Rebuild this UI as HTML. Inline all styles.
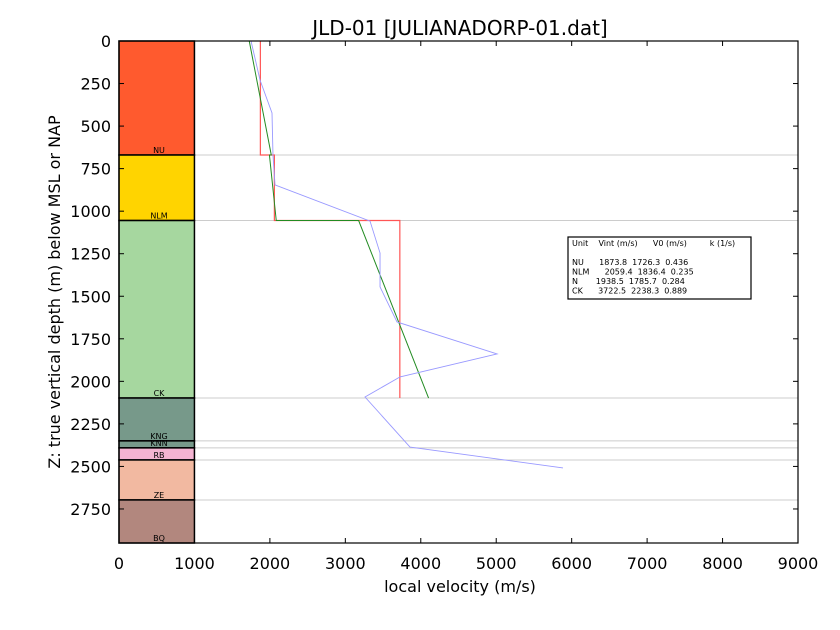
<!DOCTYPE html>
<html><head><meta charset="utf-8"><style>
body{margin:0;background:#fff;}
svg{display:block;font-family:"DejaVu Sans","Liberation Sans",sans-serif;}
</style></head><body>
<svg id="chart" width="840" height="630"></svg>
<script>
const layerNames=["NU","NLM","CK","KNG","KNN","RB","ZE","BQ"];
const layerTops=[0,670,1055,2098,2350,2391,2462,2697];
const layerBases=[670,1055,2098,2350,2391,2462,2697,2950];
const layerColors=["#ff5a2e","#ffd400","#a6d79f","#77998a","#77998a","#f4b4d2","#f2b9a1","#b2877e"];
const vintValues=[1873.8,2059.4,3722.5];
const v0Values=[1726.3,1836.4,2238.3];
const kValues=[0.436,0.235,0.889];
const fitTops=[0,670,1055];
const fitBases=[670,1055,2098];
const logDepth=[0,229,423,670,846,1058,1246,1445,1651,1839,1974,2092,2386,2509];
const logVel=[1750,1869,2028,2041,2068,3327,3460,3460,3685,5011,3725,3261,3857,5885];
const xTicks=[0,1000,2000,3000,4000,5000,6000,7000,8000,9000];
const yTicks=[0,250,500,750,1000,1250,1500,1750,2000,2250,2500,2750];
const legendRows=["Unit    Vint (m/s)      V0 (m/s)         k (1/s)","","NU      1873.8  1726.3  0.436","NLM      2059.4  1836.4  0.235","N       1938.5  1785.7  0.284","CK      3722.5  2238.3  0.889"];

const L=119,R=798,T=41,B=543,XMAX=9000,YMAX=2950;
const X=v=>L+v/XMAX*(R-L);
const Y=d=>T+d/YMAX*(B-T);
const svg=document.getElementById('chart');
const NS="http://www.w3.org/2000/svg";
function mk(tag,attrs,parent){const e=document.createElementNS(NS,tag);for(const k in attrs)e.setAttribute(k,attrs[k]);(parent||svg).appendChild(e);return e;}

layerBases.forEach((d,i)=>{
 const l=mk('line',{x1:L,x2:R,y1:Y(d),y2:Y(d),stroke:'#cccccc','stroke-width':1});
 
 
});
layerNames.forEach((n,i)=>{
 const r=mk('rect',{x:L,y:Y(layerTops[i]),width:X(1000)-L,height:Y(layerBases[i])-Y(layerTops[i]),fill:layerColors[i],stroke:'#000','stroke-width':1.5});
 
 
 const t=mk('text',{x:X(530),y:Y(layerBases[i])-2,'font-size':8,'text-anchor':'middle',fill:'#000'});
 t.textContent=n;
 
 
});
let rp='';
vintValues.forEach((v,i)=>{rp+=(i?'L':'M')+X(v)+','+Y(fitTops[i])+'L'+X(v)+','+Y(fitBases[i]);});
const red=mk('path',{d:rp,fill:'none',stroke:'#ff5555','stroke-width':1.2});


let gp='';
v0Values.forEach((v0,i)=>{
 const a=v0+kValues[i]*fitTops[i], b=v0+kValues[i]*fitBases[i];
 gp+=(i?'L':'M')+X(a)+','+Y(fitTops[i])+'L'+X(b)+','+Y(fitBases[i]);
});
const green=mk('path',{d:gp,fill:'none',stroke:'#228b22','stroke-width':1});


const bp=logDepth.map((d,i)=>(i?'L':'M')+X(logVel[i])+','+Y(d)).join('');
const blue=mk('path',{d:bp,fill:'none',stroke:'#9999ff','stroke-width':0.9});


const fr=mk('rect',{x:L,y:T,width:R-L,height:B-T,fill:'none',stroke:'#000','stroke-width':1.2});


xTicks.forEach(v=>{
 mk('line',{x1:X(v),x2:X(v),y1:B,y2:B-5,stroke:'#000'});
 mk('line',{x1:X(v),x2:X(v),y1:T,y2:T+5,stroke:'#000'});
 const t=mk('text',{x:X(v),y:B+26,'font-size':16,'text-anchor':'middle'});
 t.textContent=v;
 
 
});
yTicks.forEach(d=>{
 mk('line',{x1:L,x2:L+5,y1:Y(d),y2:Y(d),stroke:'#000'});
 mk('line',{x1:R,x2:R-5,y1:Y(d),y2:Y(d),stroke:'#000'});
 const t=mk('text',{x:L-8,y:Y(d)+6,'font-size':16,'text-anchor':'end'});
 t.textContent=d;
 
 
});
const lg=mk('g',{});


mk('rect',{x:568,y:237,width:183,height:62,fill:'#fff',stroke:'#000','stroke-width':1.2},lg);
legendRows.forEach((r,i)=>{
 const t=mk('text',{x:572,y:246+i*9.5,'font-size':8},lg);
 t.setAttribute('style','white-space:pre');
 t.textContent=r;
});
const ti=mk('text',{x:460,y:35,'font-size':20,'text-anchor':'middle'});
ti.textContent='JLD-01 [JULIANADORP-01.dat]';


const xl=mk('text',{x:460,y:592,'font-size':16,'text-anchor':'middle'});
xl.textContent='local velocity (m/s)';


const yl=mk('text',{x:0,y:0,'font-size':16,'text-anchor':'middle',transform:'translate(60,292) rotate(-90)'});
yl.textContent='Z: true vertical depth (m) below MSL or NAP';


</script>
</body></html>
